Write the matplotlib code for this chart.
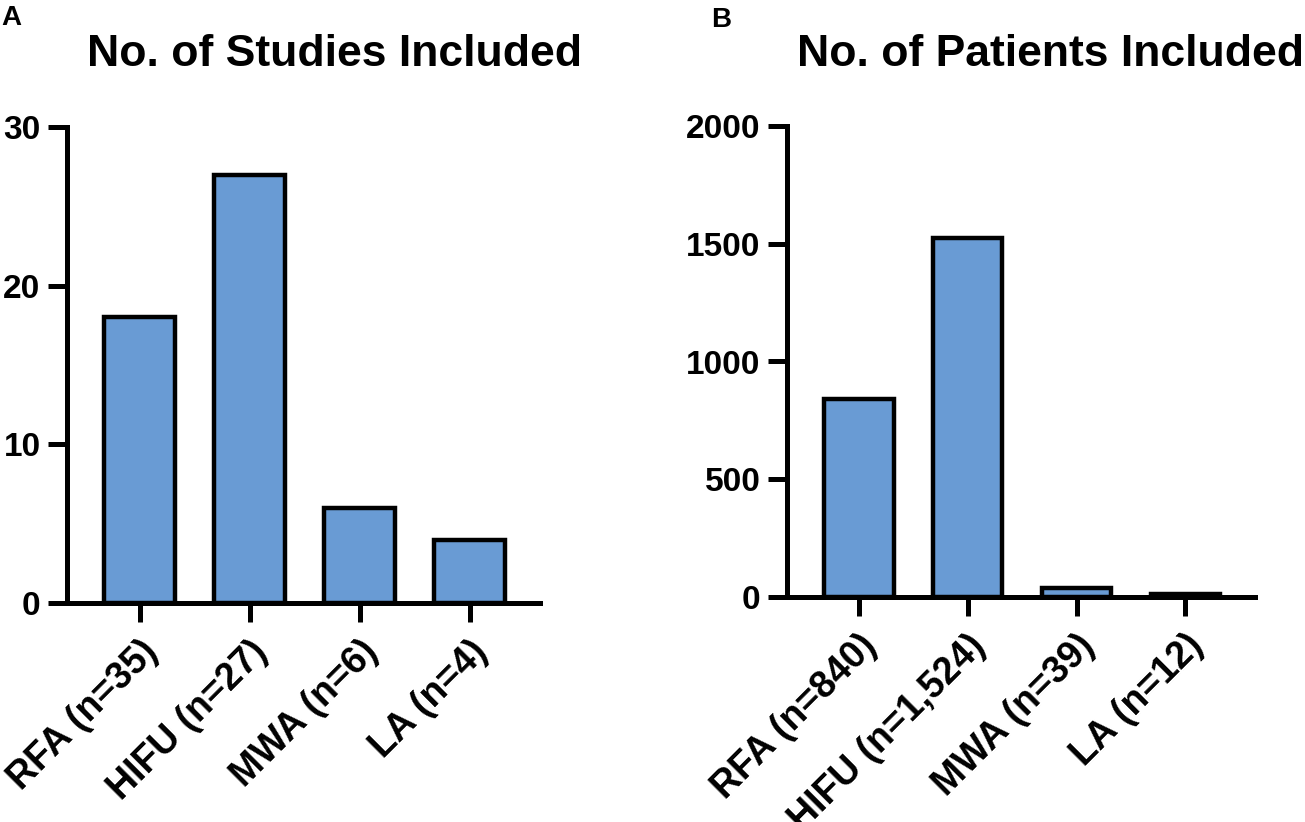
import matplotlib.pyplot as plt

plt.rcParams['font.family'] = 'Liberation Sans'
plt.rcParams['font.weight'] = 'bold'

# data
methods = ['RFA', 'HIFU', 'MWA', 'LA']
study_labels = ['RFA (n=35)', 'HIFU (n=27)', 'MWA (n=6)', 'LA (n=4)']
study_counts = [18, 27, 6, 4]
patient_labels = ['RFA (n=840)', 'HIFU (n=1,524)', 'MWA (n=39)', 'LA (n=12)']
patient_counts = [840, 1524, 39, 12]

bar_color = '#699bd4'
W, H = 1305, 822

fig = plt.figure(figsize=(13.05, 8.22), dpi=100)

# axes rectangles in pixels (left, bottom-from-top, right, top-from-top)
ax1 = fig.add_axes([67 / W, (H - 603) / H, (540 - 67) / W, (603 - 127) / H])
ax2 = fig.add_axes([787 / W, (H - 597) / H, (1255 - 787) / W, (597 - 126) / H])


def style_axis(ax, labels, values, ymax, step):
    x = range(len(values))
    ax.bar(x, values, width=0.64, color=bar_color, edgecolor='black', linewidth=3.2)
    ax.set_xlim(-0.66, len(values) - 1 + 0.64)
    ax.set_ylim(0, ymax)
    ax.set_yticks(range(0, ymax + 1, step))
    ax.set_xticks(list(x))
    ax.set_xticklabels(labels, rotation=45, ha='right', rotation_mode='anchor')
    for s in ['top', 'right']:
        ax.spines[s].set_visible(False)
    for s in ['left', 'bottom']:
        ax.spines[s].set_linewidth(3.6)
        ax.spines[s].set_capstyle('projecting')
    ax.tick_params(axis='both', length=14, width=3.6, labelsize=24, pad=5)
    ax.tick_params(axis='x', labelsize=27, pad=8)
    for lab in ax.get_xticklabels() + ax.get_yticklabels():
        lab.set_fontweight('bold')


style_axis(ax1, study_labels, study_counts, 30, 10)
style_axis(ax2, patient_labels, patient_counts, 2000, 500)

# titles and panel letters
fig.text(87 / W, 1 - 66 / H, 'No. of Studies Included', fontsize=32, fontweight='bold',
         ha='left', va='baseline')
fig.text(797 / W, 1 - 66 / H, 'No. of Patients Included', fontsize=32, fontweight='bold',
         ha='left', va='baseline')
fig.text(1 / W, 1 - 25 / H, 'A', fontsize=20, fontweight='bold', ha='left', va='baseline')
fig.text(711 / W, 1 - 27 / H, 'B', fontsize=20, fontweight='bold', ha='left', va='baseline')

fig.savefig('out.png', dpi=100)
